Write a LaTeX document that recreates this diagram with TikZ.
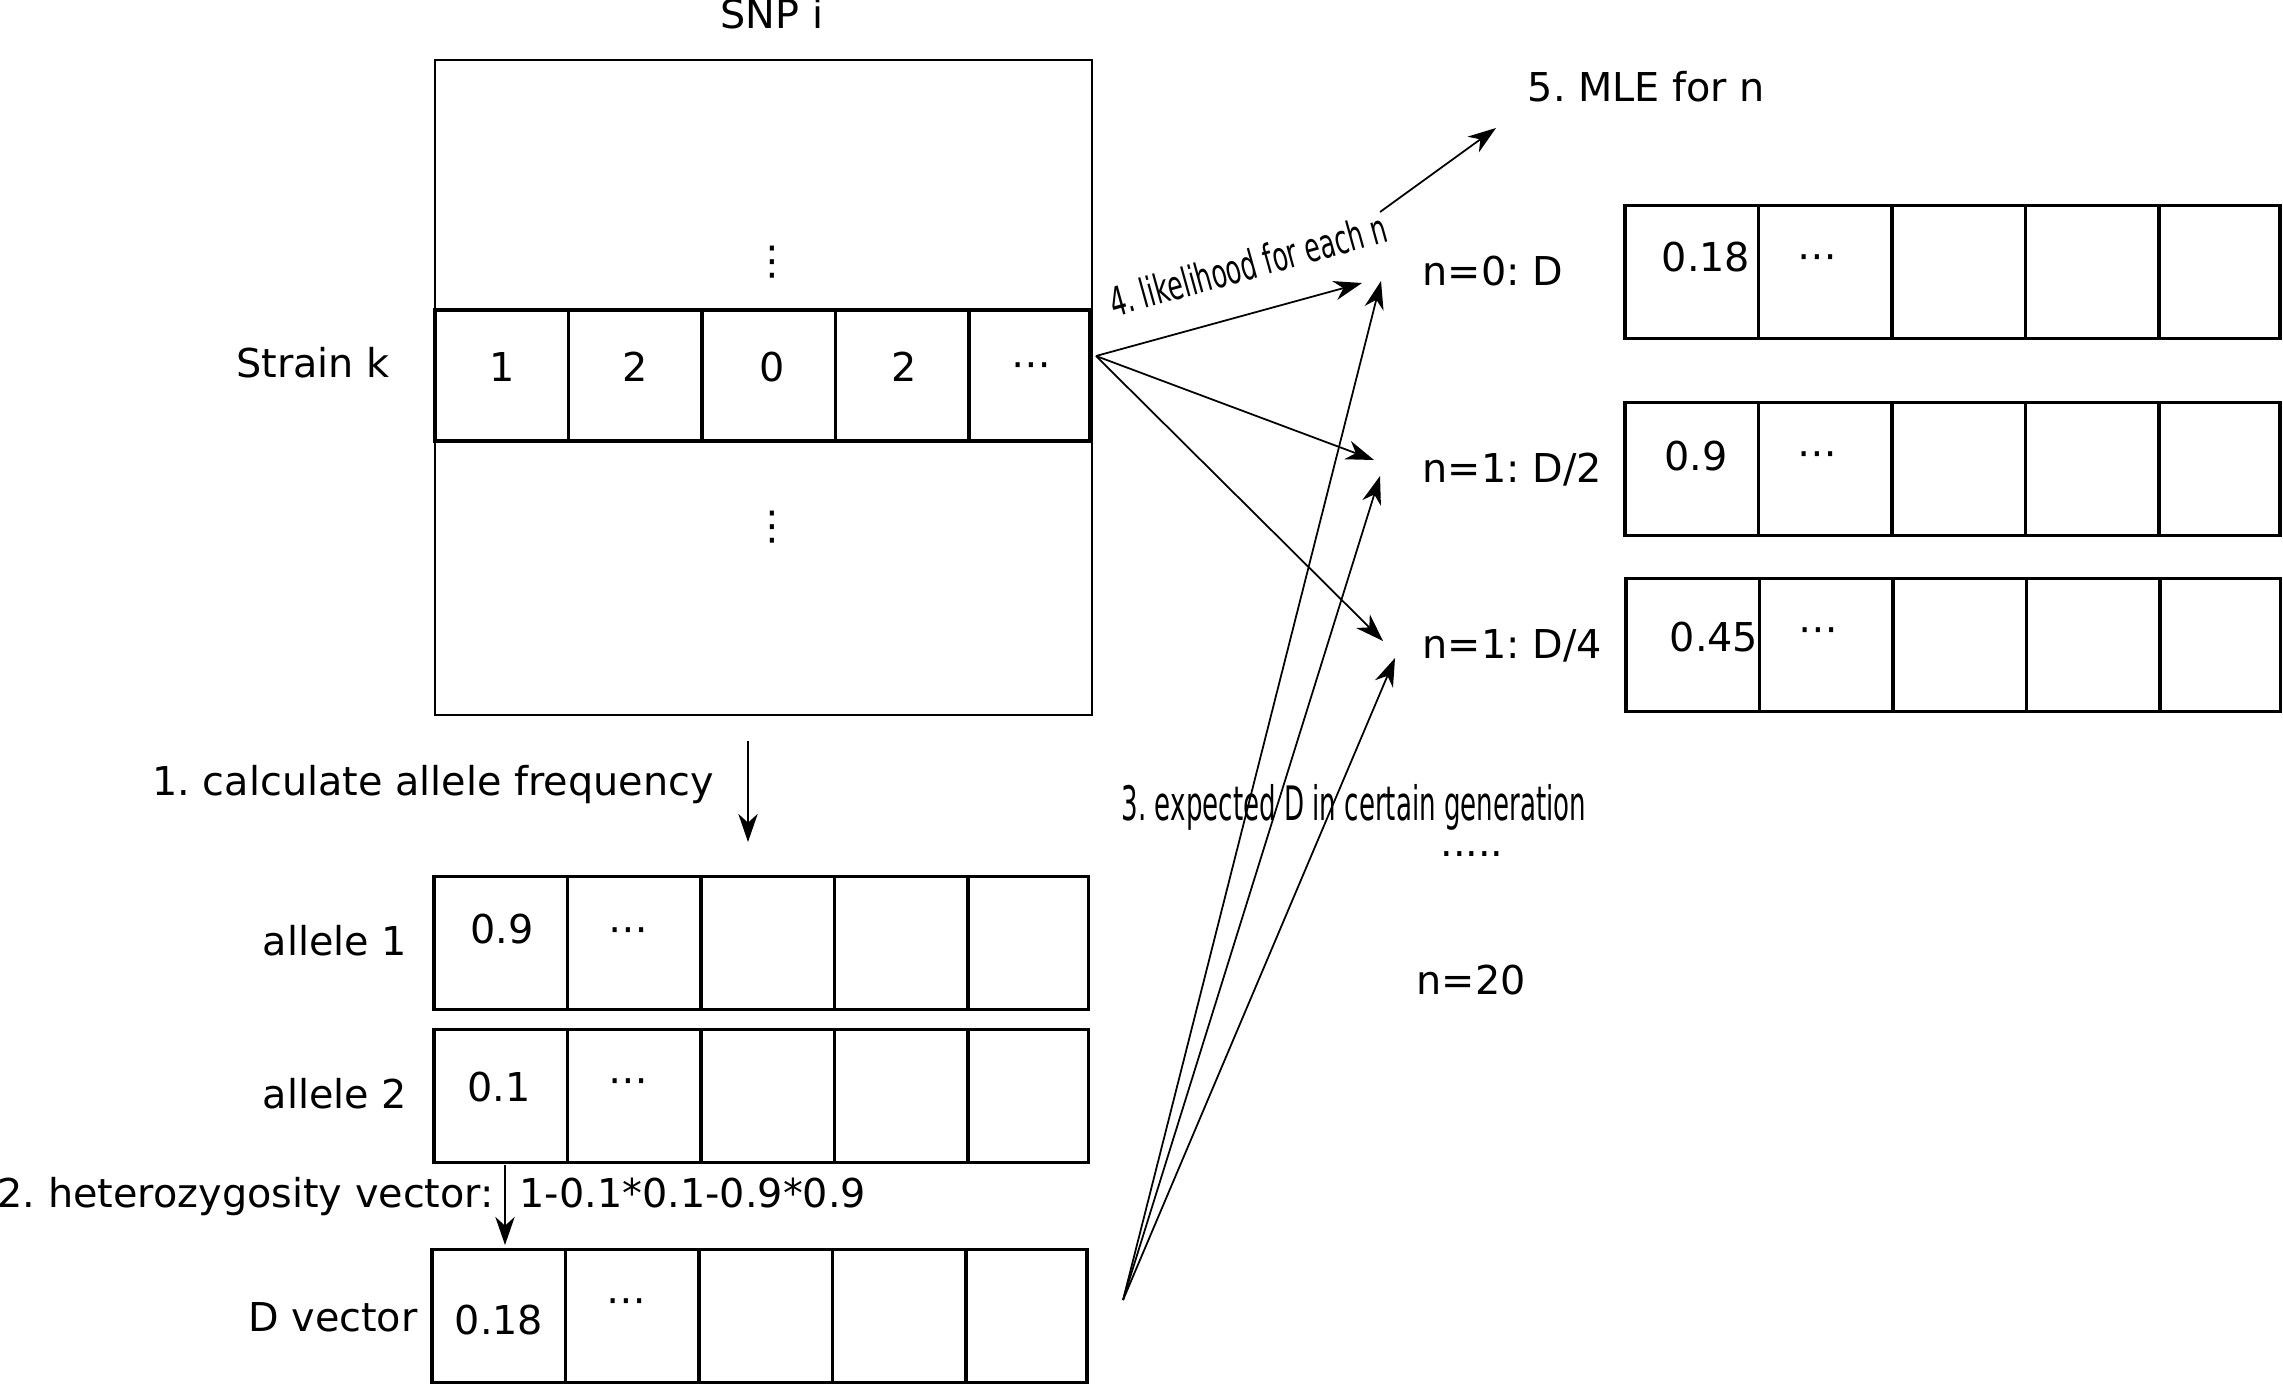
\documentclass[tikz,border=0pt]{standalone}
\usepackage{fontspec}
\setmainfont{DejaVu Sans}
\usetikzlibrary{arrows.meta}
\frenchspacing
\tikzset{
	cell/.style={draw, line width=0.9pt, minimum width=1.335cm, minimum height=1.33cm, inner sep=0pt},
	lastcell/.style={cell, minimum width=1.21cm},
	lbl/.style={font=\fontsize{11.3}{13}\selectfont, inner sep=0pt},
	arr/.style={-{Stealth[length=8pt, width=5.5pt, inset=2.5pt]}, line width=0.5pt},
}

\begin{document}
\begin{tikzpicture}[x=0.01cm, y=-0.01cm]
			%%%%% START %%%%%
			\useasboundingbox (0,0) rectangle (2283,1388);
			
			% SNP box with strain row
			\node[draw, line width=0.6pt, minimum width=6.57cm, minimum height=6.55cm, inner sep=0pt] (snp) at (763.5,387.5) {};
			\node[lbl, anchor=base] (snptxt) at (772,29) {SNP i};
			\node[lbl] (vdots1) at (772,262) {⋮};
			\node[lbl] (vdots2) at (772,527) {⋮};
			
			\node[cell, minimum height=1.31cm] (sk1) at (501.75,375.5) {};
			\node[cell, minimum height=1.31cm] (sk2) at (635.25,375.5) {};
			\node[cell, minimum height=1.31cm] (sk3) at (768.75,375.5) {};
			\node[cell, minimum height=1.31cm] (sk4) at (902.25,375.5) {};
			\node[lastcell, minimum height=1.31cm] (sk5) at (1029,375.5) {};
			\node[lbl, anchor=base] (straintxt) at (313,377) {Strain k};
			\node[lbl, anchor=base] (sk1t) at (502,381) {1};
			\node[lbl, anchor=base] (sk2t) at (635,381) {2};
			\node[lbl, anchor=base] (sk3t) at (772,381) {0};
			\node[lbl, anchor=base] (sk4t) at (904,381) {2};
			\node[lbl, anchor=base] (sk5t) at (1031,377) {⋯};
			
			% step 1
			\node[lbl, anchor=base] (calctxt) at (433,795) {1. calculate allele frequency};
			\coordinate (calcA) at (748,741);
			\coordinate (calcB) at (748,842);
			\draw[arr] (calcA) -- (calcB);
			
			% allele rows
			\node[cell] (a1c1) at (500.75,943) {};
			\node[cell] (a1c2) at (634.25,943) {};
			\node[cell] (a1c3) at (767.75,943) {};
			\node[cell] (a1c4) at (901.25,943) {};
			\node[lastcell] (a1c5) at (1028,943) {};
			\node[lbl, anchor=base] (a1txt) at (335,955) {allele 1};
			\node[lbl, anchor=base] (a1v1) at (502,943) {0.9};
			\node[lbl, anchor=base] (a1v2) at (628,942) {⋯};
			
			\node[cell] (a2c1) at (500.75,1096) {};
			\node[cell] (a2c2) at (634.25,1096) {};
			\node[cell] (a2c3) at (767.75,1096) {};
			\node[cell] (a2c4) at (901.25,1096) {};
			\node[lastcell] (a2c5) at (1028,1096) {};
			\node[lbl, anchor=base] (a2txt) at (335,1108) {allele 2};
			\node[lbl, anchor=base] (a2v1) at (499,1101) {0.1};
			\node[lbl, anchor=base] (a2v2) at (628,1093) {⋯};
			
			% step 2
			\node[lbl, anchor=base west] (hettxt) at (-3,1207) {2. heterozygosity vector:};
			\node[lbl, anchor=base west] (hetform) at (519,1207) {1-0.1*0.1-0.9*0.9};
			\coordinate (hetA) at (505,1165);
			\coordinate (hetB) at (505,1245);
			\draw[arr] (hetA) -- (hetB);
			
			% D vector
			\node[cell] (dc1) at (498.75,1316) {};
			\node[cell] (dc2) at (632.25,1316) {};
			\node[cell] (dc3) at (765.75,1316) {};
			\node[cell] (dc4) at (899.25,1316) {};
			\node[lastcell] (dc5) at (1026.5,1316) {};
			\node[lbl, anchor=base] (dtxt) at (333,1331) {D vector};
			\node[lbl, anchor=base] (dv1) at (499,1334) {0.18};
			\node[lbl, anchor=base] (dv2) at (626,1313) {⋯};
			
			% expected D rows
			\node[cell] (r0c1) at (1691.75,272) {};
			\node[cell] (r0c2) at (1825.25,272) {};
			\node[cell] (r0c3) at (1958.75,272) {};
			\node[cell] (r0c4) at (2092.25,272) {};
			\node[lastcell] (r0c5) at (2219.5,272) {};
			\node[lbl, anchor=base west] (n0txt) at (1422,285) {n=0: D};
			\node[lbl, anchor=base] (r0v1) at (1706,271) {0.18};
			\node[lbl, anchor=base] (r0v2) at (1817,269) {⋯};
			
			\node[cell] (r1c1) at (1691.75,469) {};
			\node[cell] (r1c2) at (1825.25,469) {};
			\node[cell] (r1c3) at (1958.75,469) {};
			\node[cell] (r1c4) at (2092.25,469) {};
			\node[lastcell] (r1c5) at (2219.5,469) {};
			\node[lbl, anchor=base west] (n1txt) at (1422,482) {n=1: D/2};
			\node[lbl, anchor=base] (r1v1) at (1696,470) {0.9};
			\node[lbl, anchor=base] (r1v2) at (1817,466) {⋯};
			
			\node[cell] (r2c1) at (1692.75,645) {};
			\node[cell] (r2c2) at (1826.25,645) {};
			\node[cell] (r2c3) at (1959.75,645) {};
			\node[cell] (r2c4) at (2093.25,645) {};
			\node[lastcell] (r2c5) at (2220,645) {};
			\node[lbl, anchor=base west] (n2txt) at (1422,658) {n=1: D/4};
			\node[lbl, anchor=base] (r2v1) at (1714,651) {0.45};
			\node[lbl, anchor=base] (r2v2) at (1818,642) {⋯};
			
			\node[lbl, anchor=base] (moredots) at (1472,856) {.....};
			\node[lbl, anchor=base] (n20txt) at (1471,994) {n=20};
			
			% step 3 and 4
			\node[anchor=base, inner sep=0pt, font=\fontsize{13.5}{15}\selectfont] (exptxt) at (1354,820) {\scalebox{0.55}[1]{3. expected D in certain generation}};
			\node[anchor=base, inner sep=0pt, rotate=15.5, font=\fontsize{11.5}{13}\selectfont] (liktxt) at (1252,279) {\scalebox{0.62}[1]{4. likelihood for each n}};
			
			\coordinate (sout) at (1096,356);
			\coordinate (lk0) at (1362,283);
			\coordinate (lk1) at (1374,460);
			\coordinate (lk2) at (1383,641);
			\draw[arr] (sout) -- (lk0);
			\draw[arr] (sout) -- (lk1);
			\draw[arr] (sout) -- (lk2);
			
			\coordinate (dout) at (1123,1300);
			\coordinate (ex0) at (1381,281);
			\coordinate (ex1) at (1380,476);
			\coordinate (ex2) at (1395,658);
			\draw[arr] (dout) -- (ex0);
			\draw[arr] (dout) -- (ex1);
			\draw[arr] (dout) -- (ex2);
			
			% step 5
			\node[lbl, anchor=base west] (mletxt) at (1527,102) {5. MLE for n};
			\coordinate (mleA) at (1380,212);
			\coordinate (mleB) at (1496,128);
			\draw[arr] (mleA) -- (mleB);
			
			%%%%% END %%%%%
		\end{tikzpicture}
\end{document}
